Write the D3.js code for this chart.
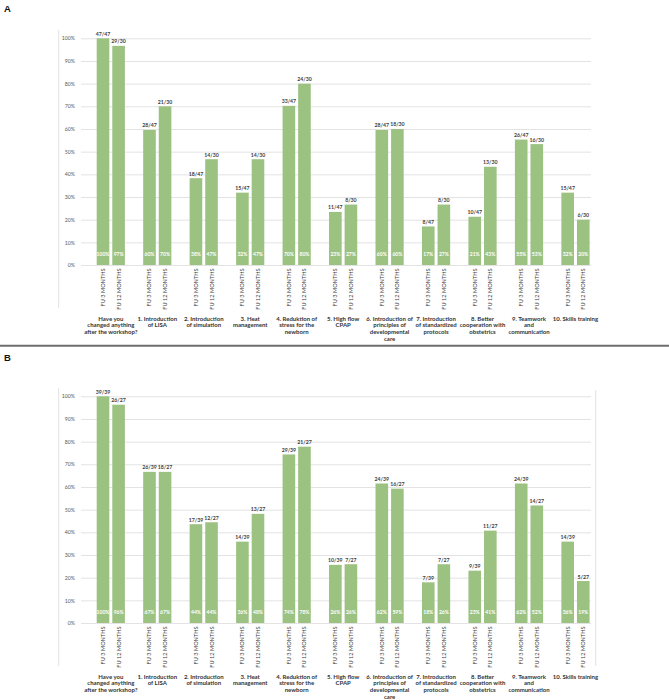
<!DOCTYPE html>
<html><head><meta charset="utf-8">
<script src="https://cdn.jsdelivr.net/npm/d3@7"></script>
<style>body{margin:0;background:#fff}svg{display:block}</style>
</head><body>
<svg id="c" width="669" height="700"></svg>
<script>
const categories = ["Have you changed anything after the workshop?","1. Introduction of LISA","2. Introduction of simulation","3. Heat management","4. Reduktion of stress for the newborn","5. High flow CPAP","6. Introduction of principles of developmental care","7. Introduction of standardized protocols","8. Better cooperation with obstetrics","9. Teamwork and communication","10. Skills training"];
const categoryLines = [["Have you","changed anything","after the workshop?"],["1. Introduction","of LISA"],["2. Introduction","of simulation"],["3. Heat","management"],["4. Reduktion of","stress for the","newborn"],["5. High flow","CPAP"],["6. Introduction of","principles of","developmental","care"],["7. Introduction","of standardized","protocols"],["8. Better","cooperation with","obstetrics"],["9. Teamwork","and","communication"],["10. Skills training"]];
const series = ["FU 3 MONTHS","FU 12 MONTHS"];
const yTicks = [0,0.1,0.2,0.3,0.4,0.5,0.6,0.7,0.8,0.9,1.0];

// Panel A
const totalA = [47,30];
const countsA3 = [47,28,18,15,33,11,28,8,10,26,15];
const countsA12 = [29,21,14,14,24,8,18,8,13,16,6];
const pctA3 = [100,60,38,32,70,23,60,17,21,55,32];
const pctA12 = [97,70,47,47,80,27,60,27,43,53,20];

// Panel B
const totalB = [39,27];
const countsB3 = [39,26,17,14,29,10,24,7,9,24,14];
const countsB12 = [26,18,12,13,21,7,16,7,11,14,5];
const pctB3 = [100,67,44,36,74,26,62,18,23,62,36];
const pctB12 = [96,67,44,48,78,26,59,26,41,52,19];

const svg = d3.select("#c");
const FONT = "Lato, 'Open Sans', sans-serif";
const barColor = "#9cc282";

// separator
svg.append("line").attr("x1",0).attr("x2",669).attr("y1",345.8).attr("y2",345.8)
  .attr("stroke","#6e6e6e").attr("stroke-width",2);

function panel(letter, letterY, oy, c3, c12, tot, p3, p12, rightBorder){
  svg.append("text").attr("x",4).attr("y",letterY).text(letter)
    .attr("font-family","'Liberation Sans', Arial, sans-serif").attr("font-weight","bold")
    .attr("font-size",9.5).attr("fill","#111");
  const g = svg.append("g").attr("transform",`translate(0,${oy})`);
  const y = d3.scaleLinear().domain([0,1]).range([265,38.3]);
  const x0 = d3.scaleBand().domain(categories).range([87.57,598.7]);
  const bw = x0.bandwidth();
  const x1 = d3.scaleBand().domain(series).range([bw/2-14.1,bw/2+14.1]).paddingInner(0.19);

  // frame lines
  g.append("line").attr("x1",58.7).attr("x2",58.7).attr("y1",30).attr("y2",308)
    .attr("stroke","#e2e2e2").attr("stroke-width",1);
  if(rightBorder){
    g.append("line").attr("x1",595.7).attr("x2",595.7).attr("y1",32).attr("y2",308)
      .attr("stroke","#e2e2e2").attr("stroke-width",1);
  }
  // grid + ticks
  const yAxis = d3.axisLeft(y).tickValues(yTicks).tickFormat(d3.format(".0%")).tickSize(-(591-81)).tickPadding(6);
  const ag = g.append("g").attr("transform","translate(81,0)").call(yAxis);
  ag.select(".domain").remove();
  ag.selectAll(".tick line").attr("stroke","#e3e3e3").attr("stroke-width",1);
  ag.selectAll(".tick text").attr("font-family",FONT).attr("font-size",5.2).attr("fill","#595959");

  const rows = categories.map((c,i)=>({cat:c, vals:[
    {s:series[0], v:c3[i]/tot[0], lab:`${c3[i]}/${tot[0]}`, pct:p3[i]+"%"},
    {s:series[1], v:c12[i]/tot[1], lab:`${c12[i]}/${tot[1]}`, pct:p12[i]+"%"}]}));

  const gg = g.selectAll(".grp").data(rows).enter().append("g")
    .attr("transform",d=>`translate(${x0(d.cat)},0)`);
  const bars = gg.selectAll(".b").data(d=>d.vals).enter();
  bars.append("rect").attr("x",d=>x1(d.s)).attr("width",x1.bandwidth())
    .attr("y",d=>y(d.v)).attr("height",d=>y(0)-y(d.v)).attr("fill",barColor);
  bars.append("text").attr("x",d=>x1(d.s)+x1.bandwidth()/2).attr("y",d=>y(d.v)-2.5)
    .attr("text-anchor","middle").text(d=>d.lab)
    .attr("font-family",FONT).attr("font-weight","bold").attr("font-size",5.2).attr("fill","#404040");
  bars.append("text").attr("x",d=>x1(d.s)+x1.bandwidth()/2).attr("y",y(0)-9.5)
    .attr("text-anchor","middle").text(d=>d.pct)
    .attr("font-family",FONT).attr("font-weight","bold").attr("font-size",5).attr("fill","#ffffff");
  // rotated series labels
  bars.append("text")
    .attr("transform",d=>`translate(${x1(d.s)+x1.bandwidth()/2+2},${y(0)+3.5}) rotate(-90)`)
    .attr("text-anchor","end").text(d=>d.s)
    .attr("font-family",FONT).attr("font-size",5.6).attr("fill","#404040");
  // category labels
  gg.each(function(d,i){
    const t = d3.select(this).append("text").attr("text-anchor","middle")
      .attr("font-family",FONT).attr("font-weight","bold").attr("font-size",6).attr("fill","#333");
    categoryLines[i].forEach((ln,k)=>{
      t.append("tspan").attr("x",bw/2).attr("y",y(0)+55.5+k*6.9).text(ln);
    });
  });
}
panel("A",11.7,0,countsA3,countsA12,totalA,pctA3,pctA12,false);
panel("B",361,358,countsB3,countsB12,totalB,pctB3,pctB12,true);
</script>
</body></html>
